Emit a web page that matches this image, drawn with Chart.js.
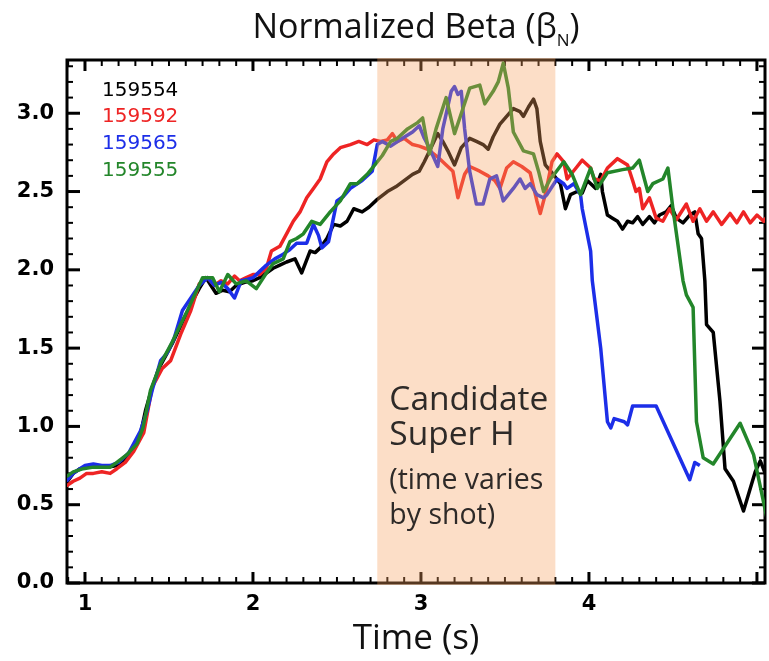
<!DOCTYPE html>
<html>
<head>
<meta charset="utf-8">
<title>Normalized Beta</title>
<script src="https://cdn.jsdelivr.net/npm/chart.js@4.4.0/dist/chart.umd.min.js"></script>
<style>
  html, body { margin: 0; padding: 0; background: #fff; }
  #wrap { width: 769px; height: 661px; }
</style>
</head>
<body>
<div id="wrap"><canvas id="betaChart"></canvas></div>
<script>
// shots and their line colours
const shots = ['159554', '159592', '159565', '159555'];
const shotColors = ['#000000', '#ee2424', '#1c2ee8', '#23862a'];

// [time (s), beta_N] per shot
const shot159554 = [
  [0.89, 0.64], [0.93, 0.70], [0.97, 0.73], [1.02, 0.74], [1.08, 0.74], [1.14, 0.74],
  [1.19, 0.75], [1.24, 0.79], [1.29, 0.86], [1.33, 0.95], [1.36, 1.10], [1.40, 1.25],
  [1.44, 1.37], [1.48, 1.45], [1.52, 1.53], [1.56, 1.62], [1.60, 1.71], [1.64, 1.80],
  [1.68, 1.88], [1.72, 1.95], [1.75, 1.90], [1.78, 1.85], [1.82, 1.87], [1.86, 1.86],
  [1.90, 1.90], [1.95, 1.92], [2.00, 1.93], [2.04, 1.95], [2.08, 1.98], [2.12, 2.01],
  [2.16, 2.03], [2.20, 2.05], [2.25, 2.07], [2.29, 1.98], [2.34, 2.12], [2.37, 2.11],
  [2.40, 2.14], [2.44, 2.20], [2.48, 2.29], [2.52, 2.28], [2.56, 2.31], [2.60, 2.39],
  [2.65, 2.37], [2.69, 2.40], [2.74, 2.45], [2.80, 2.50], [2.85, 2.53], [2.90, 2.57],
  [2.95, 2.61], [2.99, 2.63], [3.02, 2.69], [3.06, 2.78], [3.10, 2.87], [3.13, 2.82],
  [3.16, 2.76], [3.20, 2.67], [3.24, 2.78], [3.29, 2.84], [3.33, 2.82], [3.37, 2.80],
  [3.40, 2.77], [3.43, 2.85], [3.47, 2.93], [3.51, 2.98], [3.55, 3.03], [3.59, 3.01],
  [3.61, 2.98], [3.64, 3.04], [3.67, 3.09], [3.69, 3.03], [3.71, 2.82], [3.74, 2.67],
  [3.78, 2.62], [3.83, 2.55], [3.86, 2.39], [3.89, 2.48], [3.93, 2.50], [3.96, 2.49],
  [3.99, 2.57], [4.04, 2.52], [4.07, 2.61], [4.08, 2.50], [4.11, 2.35], [4.14, 2.33],
  [4.17, 2.31], [4.20, 2.26], [4.23, 2.31], [4.26, 2.30], [4.29, 2.34], [4.32, 2.29],
  [4.36, 2.34], [4.39, 2.30], [4.42, 2.35], [4.46, 2.37], [4.49, 2.41], [4.52, 2.33],
  [4.56, 2.30], [4.60, 2.35], [4.63, 2.37], [4.65, 2.23], [4.67, 2.20], [4.69, 1.93],
  [4.70, 1.65], [4.74, 1.60], [4.78, 1.16], [4.81, 0.73], [4.86, 0.65], [4.92, 0.46],
  [4.99, 0.71], [5.02, 0.78], [5.06, 0.67]
];
const shot159592 = [
  [0.89, 0.62], [0.93, 0.65], [0.97, 0.67], [1.01, 0.70], [1.05, 0.70], [1.10, 0.71],
  [1.15, 0.70], [1.19, 0.73], [1.24, 0.77], [1.29, 0.84], [1.35, 0.96], [1.40, 1.25],
  [1.46, 1.37], [1.51, 1.42], [1.57, 1.59], [1.63, 1.74], [1.68, 1.91], [1.73, 1.95],
  [1.77, 1.90], [1.81, 1.93], [1.85, 1.91], [1.89, 1.96], [1.92, 1.93], [1.96, 1.95],
  [2.00, 1.97], [2.04, 1.97], [2.08, 2.01], [2.11, 2.12], [2.16, 2.15], [2.20, 2.23],
  [2.24, 2.31], [2.28, 2.37], [2.32, 2.46], [2.36, 2.52], [2.40, 2.58], [2.44, 2.69],
  [2.48, 2.74], [2.52, 2.78], [2.55, 2.79], [2.58, 2.80], [2.63, 2.82], [2.68, 2.80],
  [2.72, 2.83], [2.76, 2.82], [2.80, 2.83], [2.83, 2.87], [2.86, 2.82], [2.90, 2.84],
  [2.95, 2.80], [2.99, 2.79], [3.04, 2.77], [3.10, 2.72], [3.15, 2.67], [3.19, 2.63],
  [3.22, 2.46], [3.26, 2.61], [3.29, 2.66], [3.35, 2.63], [3.40, 2.60], [3.44, 2.57],
  [3.47, 2.52], [3.51, 2.65], [3.55, 2.69], [3.60, 2.66], [3.65, 2.62], [3.69, 2.44],
  [3.71, 2.36], [3.74, 2.48], [3.78, 2.69], [3.81, 2.74], [3.85, 2.69], [3.87, 2.58],
  [3.93, 2.66], [3.96, 2.70], [4.01, 2.65], [4.03, 2.58], [4.07, 2.57], [4.11, 2.65],
  [4.17, 2.71], [4.23, 2.67], [4.26, 2.57], [4.28, 2.50], [4.30, 2.52], [4.32, 2.39],
  [4.36, 2.46], [4.40, 2.33], [4.44, 2.31], [4.48, 2.39], [4.52, 2.32], [4.58, 2.42],
  [4.62, 2.31], [4.66, 2.39], [4.70, 2.31], [4.74, 2.37], [4.79, 2.29], [4.84, 2.36],
  [4.88, 2.30], [4.92, 2.37], [4.96, 2.30], [5.00, 2.35], [5.04, 2.31], [5.06, 2.34]
];
const shot159565 = [
  [0.89, 0.65], [0.93, 0.70], [0.97, 0.73], [1.00, 0.75], [1.05, 0.76], [1.10, 0.75],
  [1.15, 0.75], [1.20, 0.77], [1.26, 0.83], [1.33, 0.97], [1.37, 1.10], [1.40, 1.23],
  [1.45, 1.42], [1.49, 1.47], [1.53, 1.56], [1.58, 1.74], [1.63, 1.82], [1.68, 1.90],
  [1.73, 1.95], [1.77, 1.90], [1.81, 1.92], [1.85, 1.88], [1.89, 1.82], [1.93, 1.93],
  [1.97, 1.94], [2.00, 1.95], [2.04, 1.99], [2.08, 2.03], [2.13, 2.07], [2.18, 2.10],
  [2.22, 2.13], [2.26, 2.17], [2.32, 2.17], [2.36, 2.29], [2.39, 2.22], [2.41, 2.14],
  [2.45, 2.18], [2.50, 2.44], [2.54, 2.47], [2.58, 2.52], [2.65, 2.57], [2.71, 2.63],
  [2.74, 2.80], [2.77, 2.82], [2.82, 2.79], [2.89, 2.84], [2.95, 2.88], [2.99, 2.92],
  [3.02, 2.84], [3.05, 2.78], [3.10, 2.66], [3.13, 2.90], [3.18, 3.14], [3.20, 3.17],
  [3.22, 3.12], [3.24, 3.14], [3.26, 2.90], [3.29, 2.63], [3.33, 2.42], [3.37, 2.42],
  [3.41, 2.58], [3.45, 2.60], [3.49, 2.44], [3.55, 2.52], [3.59, 2.58], [3.62, 2.52],
  [3.65, 2.55], [3.69, 2.48], [3.73, 2.46], [3.75, 2.48], [3.81, 2.58], [3.85, 2.55],
  [3.87, 2.52], [3.91, 2.55], [3.95, 2.48], [3.96, 2.39], [4.01, 2.12], [4.02, 1.93],
  [4.07, 1.50], [4.11, 1.03], [4.13, 0.99], [4.15, 1.05], [4.21, 1.03], [4.23, 1.01],
  [4.26, 1.13], [4.40, 1.13], [4.60, 0.66], [4.63, 0.77], [4.66, 0.75]
];
const shot159555 = [
  [0.89, 0.68], [0.93, 0.71], [0.99, 0.73], [1.05, 0.74], [1.10, 0.74], [1.15, 0.74],
  [1.19, 0.77], [1.25, 0.82], [1.31, 0.89], [1.345, 0.99], [1.39, 1.23], [1.45, 1.40],
  [1.52, 1.54], [1.56, 1.63], [1.61, 1.74], [1.67, 1.88], [1.70, 1.95], [1.76, 1.95],
  [1.80, 1.86], [1.85, 1.97], [1.90, 1.91], [1.96, 1.93], [2.02, 1.88], [2.08, 1.98],
  [2.12, 2.04], [2.18, 2.07], [2.22, 2.18], [2.26, 2.20], [2.30, 2.23], [2.35, 2.31],
  [2.40, 2.29], [2.46, 2.37], [2.52, 2.44], [2.58, 2.55], [2.62, 2.55], [2.68, 2.61],
  [2.71, 2.65], [2.77, 2.73], [2.82, 2.82], [2.86, 2.84], [2.92, 2.90], [2.98, 2.94],
  [3.01, 2.97], [3.03, 2.85], [3.05, 2.74], [3.09, 2.90], [3.15, 3.10], [3.20, 2.87],
  [3.25, 3.03], [3.29, 3.16], [3.35, 3.18], [3.38, 3.06], [3.43, 3.14], [3.46, 3.20],
  [3.49, 3.32], [3.52, 3.16], [3.55, 2.88], [3.61, 2.76], [3.67, 2.74], [3.70, 2.63],
  [3.73, 2.50], [3.77, 2.58], [3.80, 2.62], [3.85, 2.69], [3.90, 2.61], [3.95, 2.48],
  [4.01, 2.65], [4.05, 2.52], [4.11, 2.62], [4.20, 2.64], [4.26, 2.65], [4.30, 2.70],
  [4.35, 2.50], [4.38, 2.55], [4.44, 2.58], [4.47, 2.65], [4.50, 2.39], [4.56, 1.93],
  [4.58, 1.84], [4.62, 1.76], [4.64, 1.03], [4.68, 0.80], [4.74, 0.76], [4.90, 1.02],
  [4.98, 0.82], [5.07, 0.36]
];
const shotData = [shot159554, shot159592, shot159565, shot159555];

// shaded "Super H" window (s)
const superHWindow = [2.74, 3.80];
const xLabelled = [1, 2, 3, 4];

const textFont = '"Open Sans", sans-serif';
const tickFont = { family: '"DejaVu Sans", sans-serif', size: 21, weight: 'bold' };

const axesFrame = {
  id: 'axesFrame',
  beforeDatasetsDraw(chart) {
    const { ctx, chartArea: a, scales: { x, y } } = chart;
    const seg = (x0, y0, x1, y1) => { ctx.beginPath(); ctx.moveTo(x0, y0); ctx.lineTo(x1, y1); ctx.stroke(); };
    ctx.save();
    ctx.strokeStyle = '#000';
    // inward ticks every 0.1, long ones on whole seconds / half units
    for (let i = Math.ceil(x.min * 10); i <= Math.floor(x.max * 10); i++) {
      const px = x.getPixelForValue(i / 10);
      const major = i % 10 === 0;
      const len = major ? 11 : 6;
      ctx.lineWidth = major ? 3 : 2;
      seg(px, a.bottom, px, a.bottom - len);
      seg(px, a.top, px, a.top + len);
    }
    for (let i = 0; i <= Math.floor(y.max * 10 + 1e-6); i++) {
      const py = y.getPixelForValue(i / 10);
      const major = i % 5 === 0;
      const len = major ? 13 : 6;
      ctx.lineWidth = major ? 3 : 2;
      seg(a.left, py, a.left + len, py);
      seg(a.right, py, a.right - len, py);
    }
    ctx.lineWidth = 3;
    ctx.strokeRect(a.left, a.top, a.right - a.left, a.bottom - a.top);
    ctx.restore();
  },
  afterDatasetsDraw(chart) {
    const { ctx, chartArea: a, scales: { x } } = chart;
    const x0 = x.getPixelForValue(superHWindow[0]);
    const x1 = x.getPixelForValue(superHWindow[1]);
    ctx.save();
    ctx.fillStyle = 'rgba(245, 160, 95, 0.35)';
    ctx.fillRect(x0, a.top - 2, x1 - x0, a.bottom - a.top + 4);
    ctx.restore();
  },
  afterDraw(chart) {
    const { ctx, chartArea: a, scales: { x } } = chart;
    ctx.save();
    ctx.textBaseline = 'alphabetic';
    ctx.textAlign = 'left';

    // title with subscript N
    const big = '34px ' + textFont, small = '17px ' + textFont;
    ctx.font = big;
    const w1 = ctx.measureText('Normalized Beta (\u03B2').width;
    const w3 = ctx.measureText(')').width;
    ctx.font = small;
    const w2 = ctx.measureText('N').width;
    const tx = (a.left + a.right) / 2 - (w1 + w2 + w3) / 2;
    ctx.fillStyle = '#111';
    ctx.font = big;
    ctx.fillText('Normalized Beta (\u03B2', tx, 38);
    ctx.font = small;
    ctx.fillText('N', tx + w1, 46);
    ctx.font = big;
    ctx.fillText(')', tx + w1 + w2, 38);

    // shot list in the corner
    ctx.font = '20px "DejaVu Sans", sans-serif';
    const baselines = [96, 122, 149, 176];
    shots.forEach((s, i) => {
      ctx.fillStyle = shotColors[i];
      ctx.fillText(s, a.left + 35, baselines[i]);
    });

    // label inside the shaded window
    const bx = x.getPixelForValue(superHWindow[0]) + 12;
    ctx.fillStyle = '#2e2a28';
    ctx.font = '33.5px ' + textFont;
    ctx.fillText('Candidate', bx, 410);
    ctx.fillText('Super H', bx, 445);
    ctx.font = '28.5px ' + textFont;
    ctx.fillText('(time varies', bx, 489);
    ctx.fillText('by shot)', bx, 524);
    ctx.restore();
  }
};

new Chart(document.getElementById('betaChart'), {
  type: 'line',
  data: {
    datasets: shots.map((s, i) => ({
      label: s,
      data: shotData[i].map(p => ({ x: p[0], y: p[1] })),
      borderColor: shotColors[i],
      borderWidth: 3.5,
      borderJoinStyle: 'round',
      pointRadius: 0,
      tension: 0,
      order: shots.length - i
    }))
  },
  options: {
    responsive: true,
    maintainAspectRatio: false,
    animation: false,
    layout: { padding: { top: 60, right: 4, left: 0, bottom: 0 } },
    plugins: {
      legend: { display: false },
      tooltip: { enabled: false }
    },
    scales: {
      x: {
        type: 'linear',
        min: 0.893,
        max: 5.048,
        afterFit: s => { s.height = 78; },
        grid: { display: false, drawTicks: false },
        border: { display: false },
        ticks: {
          stepSize: 1,
          includeBounds: false,
          autoSkip: false,
          maxRotation: 0,
          padding: 9,
          color: '#000',
          font: tickFont,
          callback: v => xLabelled.includes(v) ? String(v) : ''
        },
        title: {
          display: true,
          text: 'Time (s)',
          color: '#111',
          padding: { top: 0, bottom: 1 },
          font: { family: textFont, size: 35 }
        }
      },
      y: {
        min: 0,
        max: 3.34,
        afterFit: s => { s.width = 67; },
        grid: { display: false, drawTicks: false },
        border: { display: false },
        ticks: {
          stepSize: 0.5,
          includeBounds: false,
          padding: 13,
          color: '#000',
          font: tickFont,
          callback: v => v.toFixed(1)
        }
      }
    }
  },
  plugins: [axesFrame]
});
</script>
</body>
</html>
